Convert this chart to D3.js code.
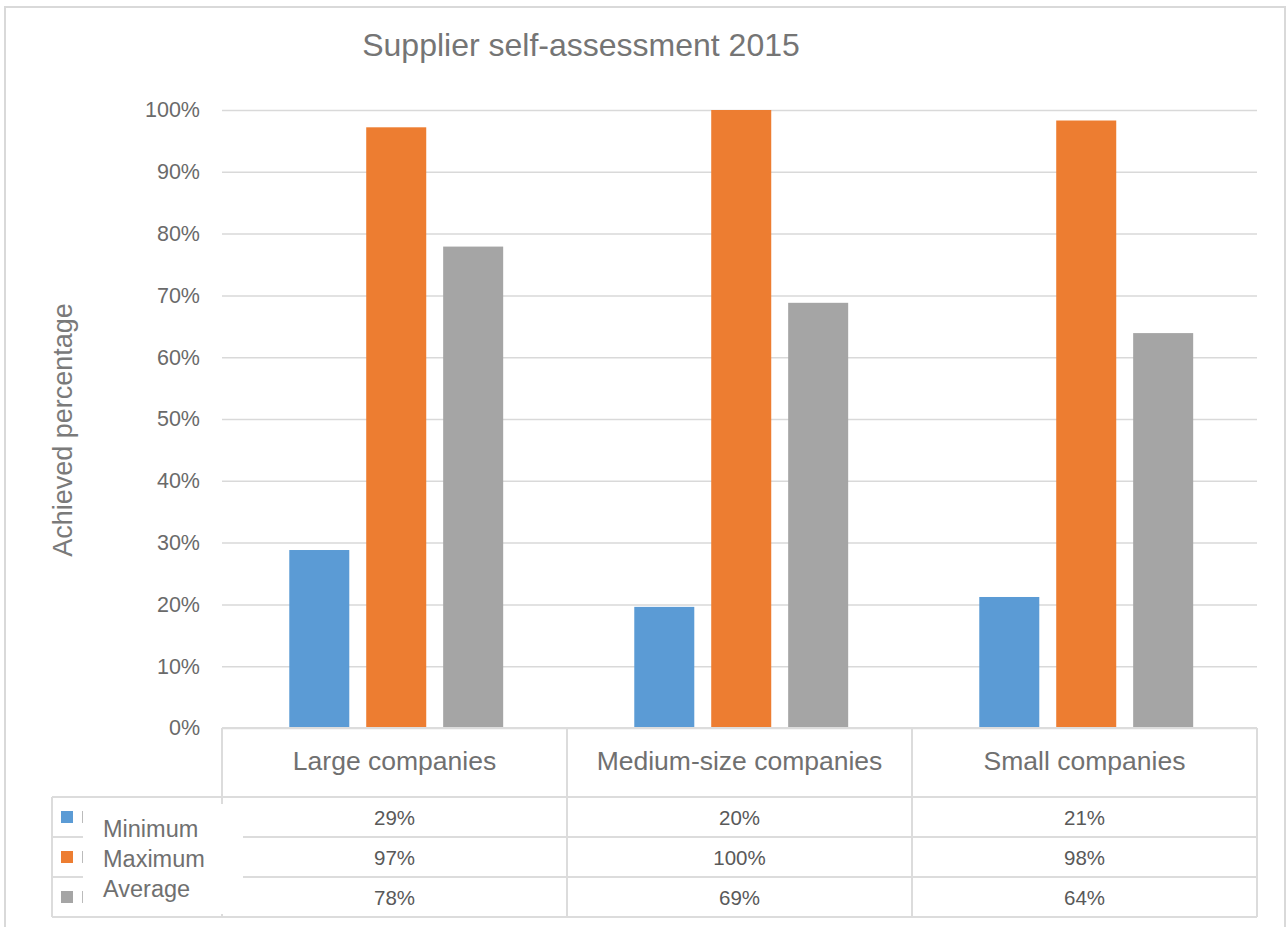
<!DOCTYPE html>
<html>
<head>
<meta charset="utf-8">
<script src="https://cdn.jsdelivr.net/npm/d3@7"></script>
<style>
  body { margin: 0; background: #fff; }
  svg { display: block; font-family: "Liberation Sans", Arial, sans-serif; }
</style>
</head>
<body>
<div class="svg-container"></div>
<script>
// data
const categories = ["Large companies", "Medium-size companies", "Small companies"];
const seriesNames = ["Minimum", "Maximum", "Average"];
const minimum = [0.288, 0.196, 0.212];
const maximum = [0.972, 1.0, 0.983];
const average = [0.779, 0.688, 0.639];
const yTicks = [0, 0.1, 0.2, 0.3, 0.4, 0.5, 0.6, 0.7, 0.8, 0.9, 1.0];
const colors = ["#5b9bd5", "#ed7d31", "#a5a5a5"];

const seriesValues = [minimum, maximum, average];

const w = 1286;
const h = 927;
const plotLeft = 222, plotRight = 1257, plotTop = 110, plotBottom = 728;
const rowH = 40;
const tableTop = 797;

const svg = d3.select(".svg-container")
  .append("svg")
  .attr("width", w)
  .attr("height", h);

// outer border
svg.append("rect")
  .attr("x", 5).attr("y", 7)
  .attr("width", 1280).attr("height", 940)
  .attr("fill", "none")
  .attr("stroke", "#d9d9d9")
  .attr("stroke-width", 2);

// title
svg.append("text")
  .attr("x", 581).attr("y", 56)
  .attr("text-anchor", "middle")
  .attr("fill", "#757575")
  .style("font-size", "32px")
  .text("Supplier self-assessment 2015");

// scales
const xScale = d3.scaleBand()
  .domain(categories)
  .range([plotLeft, plotRight]);

const xInner = d3.scaleBand()
  .domain(seriesNames)
  .range([xScale.bandwidth() * 0.195, xScale.bandwidth() * 0.815])
  .paddingInner(0.22);

const yScale = d3.scaleLinear()
  .domain([0, 1])
  .range([plotBottom, plotTop]);

// y axis with gridlines
const yAxis = d3.axisLeft(yScale)
  .tickValues(yTicks)
  .tickFormat(d3.format(".0%"))
  .tickSize(-(plotRight - plotLeft))
  .tickPadding(22);

const gy = svg.append("g")
  .attr("transform", "translate(" + plotLeft + ",0)")
  .call(yAxis);
gy.select(".domain").remove();
gy.selectAll(".tick line").attr("stroke", "#d9d9d9").attr("stroke-width", 1.5);
gy.selectAll(".tick text")
  .attr("fill", "#6a6a6a")
  .style("font-size", "21.5px")
  .style("font-family", "\"Liberation Sans\", Arial, sans-serif");

// y title
svg.append("text")
  .attr("transform", "translate(72,430) rotate(-90)")
  .attr("text-anchor", "middle")
  .attr("fill", "#7a7a7a")
  .style("font-size", "27px")
  .text("Achieved percentage");

// bars
const groups = svg.selectAll(".group")
  .data(categories)
  .enter()
  .append("g")
  .attr("class", "group")
  .attr("transform", d => "translate(" + xScale(d) + ",0)");

groups.selectAll("rect")
  .data((d, i) => seriesNames.map((s, j) => ({ s: s, v: seriesValues[j][i], c: colors[j] })))
  .enter()
  .append("rect")
  .attr("x", d => xInner(d.s))
  .attr("y", d => yScale(d.v))
  .attr("width", xInner.bandwidth())
  .attr("height", d => plotBottom - yScale(d.v))
  .attr("fill", d => d.c);

// data table
const tableBottom = tableTop + rowH * seriesNames.length;
const lineColor = "#dcdcdc";
const tbl = svg.append("g");

tbl.append("line")
  .attr("x1", plotLeft).attr("x2", plotRight)
  .attr("y1", plotBottom).attr("y2", plotBottom)
  .attr("stroke", lineColor).attr("stroke-width", 2);

const colEdges = categories.map(c => xScale(c)).concat([plotRight]);
tbl.selectAll(".vline")
  .data(colEdges)
  .enter()
  .append("line")
  .attr("x1", d => d).attr("x2", d => d)
  .attr("y1", plotBottom).attr("y2", tableBottom)
  .attr("stroke", lineColor).attr("stroke-width", 2);

tbl.selectAll(".hline")
  .data(d3.range(seriesNames.length + 1))
  .enter()
  .append("line")
  .attr("x1", 52).attr("x2", plotRight)
  .attr("y1", i => tableTop + i * rowH).attr("y2", i => tableTop + i * rowH)
  .attr("stroke", lineColor).attr("stroke-width", 2);

tbl.append("line")
  .attr("x1", 52).attr("x2", 52)
  .attr("y1", tableTop).attr("y2", tableBottom)
  .attr("stroke", lineColor).attr("stroke-width", 2);

// category labels
tbl.selectAll(".cat")
  .data(categories)
  .enter()
  .append("text")
  .attr("x", d => xScale(d) + xScale.bandwidth() / 2)
  .attr("y", 770)
  .attr("text-anchor", "middle")
  .attr("fill", "#707070")
  .style("font-size", "26.5px")
  .text(d => d);

// values
seriesValues.forEach((vals, j) => {
  tbl.selectAll(".val" + j)
    .data(vals)
    .enter()
    .append("text")
    .attr("x", (d, i) => xScale(categories[i]) + xScale.bandwidth() / 2)
    .attr("y", tableTop + j * rowH + 28)
    .attr("text-anchor", "middle")
    .attr("fill", "#595959")
    .style("font-size", "20.5px")
    .text(d => d3.format(".0%")(d));
});

// legend keys
tbl.selectAll(".key")
  .data(seriesNames)
  .enter()
  .append("rect")
  .attr("x", 61)
  .attr("y", (d, j) => tableTop + j * rowH + 14)
  .attr("width", 12).attr("height", 12)
  .attr("fill", (d, j) => colors[j]);

tbl.selectAll(".keytick")
  .data(seriesNames)
  .enter()
  .append("line")
  .attr("x1", 82.5).attr("x2", 82.5)
  .attr("y1", (d, j) => tableTop + j * rowH + 14)
  .attr("y2", (d, j) => tableTop + j * rowH + 26)
  .attr("stroke", "#bbb").attr("stroke-width", 1);

// white label box over the table
svg.append("rect")
  .attr("x", 83).attr("y", 804)
  .attr("width", 160).attr("height", 110)
  .attr("fill", "#fff");

svg.selectAll(".legend-label")
  .data(seriesNames)
  .enter()
  .append("text")
  .attr("x", 103)
  .attr("y", (d, j) => 837 + j * 30)
  .attr("fill", "#707070")
  .style("font-size", "23.5px")
  .text(d => d);
</script>
</body>
</html>
